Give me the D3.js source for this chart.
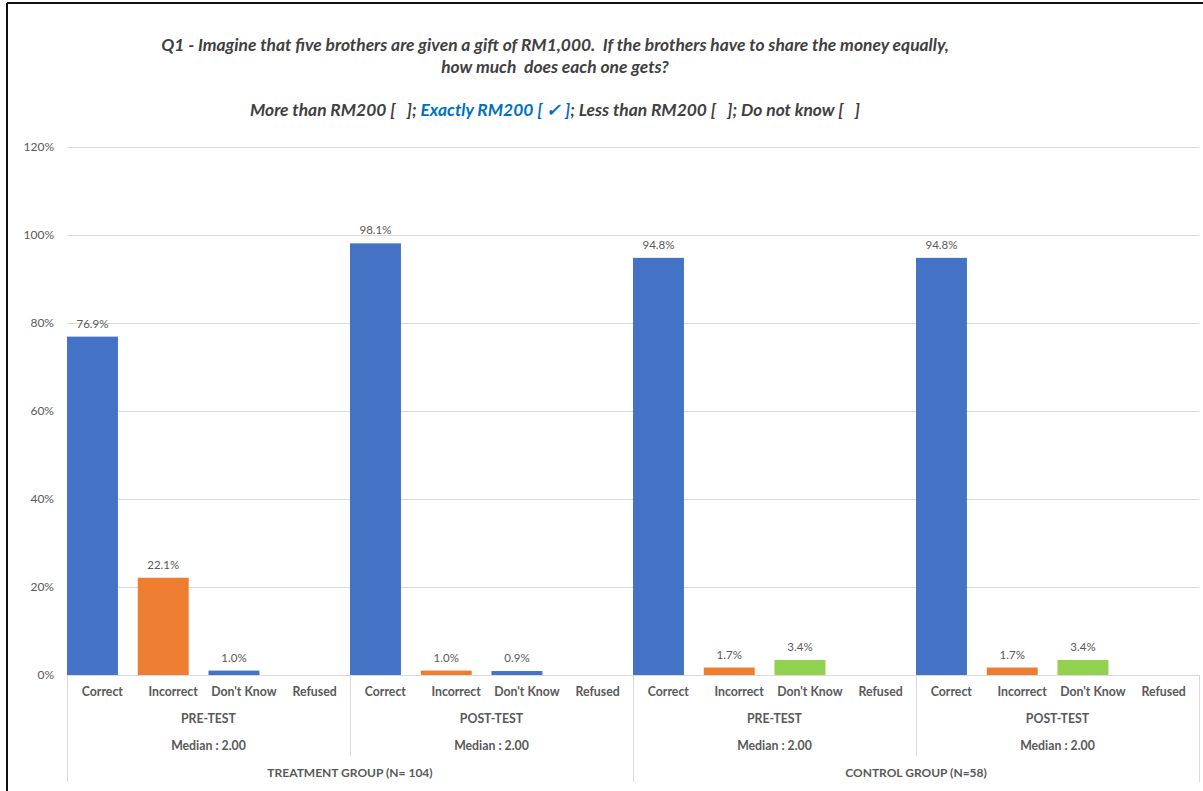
<!DOCTYPE html>
<html>
<head>
<meta charset="utf-8">
<script src="https://cdn.jsdelivr.net/npm/d3@7"></script>
<style>
  html, body { margin: 0; padding: 0; background: #fff; }
  svg { display: block; }
</style>
</head>
<body>
<svg id="chart" width="1203" height="791"></svg>
<script>
// Answer categories within each test
const categories = ["Correct", "Incorrect", "Don't Know", "Refused"];
// Test phases (one per sub-group) and their medians
const phases = ["PRE-TEST", "POST-TEST", "PRE-TEST", "POST-TEST"];
const medians = ["Median : 2.00", "Median : 2.00", "Median : 2.00", "Median : 2.00"];
// Study groups, each covering two phases
const groups = ["TREATMENT GROUP (N= 104)", "CONTROL GROUP (N=58)"];
// Percent of respondents per category (null = no bar)
const treatmentPre  = [76.9, 22.1, 1.0, null];
const treatmentPost = [98.1, 1.0, 0.9, null];
const controlPre    = [94.8, 1.7, 3.4, null];
const controlPost   = [94.8, 1.7, 3.4, null];
const phaseValues = [treatmentPre, treatmentPost, controlPre, controlPost];
// Bar fill per category, per group
const treatmentColors = ["#4472C4", "#ED7D31", "#4472C4", "#A5A5A5"];
const controlColors   = ["#4472C4", "#ED7D31", "#92D050", "#A5A5A5"];
const phaseColors = [treatmentColors, treatmentColors, controlColors, controlColors];
// Value-axis ticks
const yTicks = [0, 20, 40, 60, 80, 100, 120];

const FONT = "Lato, 'Open Sans', sans-serif";
const svg = d3.select("#chart");

// frame edges
svg.append("line").attr("x1", 7).attr("x2", 7).attr("y1", 3).attr("y2", 791)
  .attr("stroke", "#111").attr("stroke-width", 2);
svg.append("line").attr("x1", 7).attr("x2", 1203).attr("y1", 3).attr("y2", 3)
  .attr("stroke", "#111").attr("stroke-width", 2);

// title
const title = svg.append("g").attr("font-family", FONT).attr("font-style", "italic")
  .attr("font-weight", 700).attr("fill", "#404040").attr("text-anchor", "middle");
title.append("text").attr("x", 555).attr("y", 51).attr("font-size", 17.4)
  .attr("xml:space", "preserve")
  .text("Q1 - Imagine that five brothers are given a gift of RM1,000.  If the brothers have to share the money equally,");
title.append("text").attr("x", 555).attr("y", 73).attr("font-size", 17.4)
  .attr("xml:space", "preserve")
  .text("how much  does each one gets?");
const opts = title.append("text").attr("x", 555).attr("y", 116).attr("font-size", 17.4)
  .attr("xml:space", "preserve");
opts.append("tspan").text("More than RM200 [   ]; ");
opts.append("tspan").attr("fill", "#0070C0").text("Exactly RM200 [ \u2713 ]");
opts.append("tspan").text("; Less than RM200 [   ]; Do not know [   ]");

// scales
const keys = [];
phases.forEach((p, i) => categories.forEach((c, j) => keys.push(i + "|" + j)));
const x = d3.scaleBand().domain(keys).range([67, 1199]).padding(0);
const y = d3.scaleLinear().domain([0, 120]).range([675, 147]);

// gridlines
svg.append("g").selectAll("line").data(yTicks).join("line")
  .attr("x1", 67).attr("x2", 1199)
  .attr("y1", d => Math.round(y(d)) + 0.5).attr("y2", d => Math.round(y(d)) + 0.5)
  .attr("stroke", "#D9D9D9").attr("stroke-width", 1);

// value axis labels
const yAxis = svg.append("g").attr("transform", "translate(58,0)")
  .call(d3.axisLeft(y).tickValues(yTicks).tickSize(0).tickPadding(4).tickFormat(d => d + "%"));
yAxis.select(".domain").remove();
yAxis.selectAll("text").attr("font-family", FONT).attr("font-size", 12).attr("fill", "#595959");

// bars
const barData = [];
phaseValues.forEach((vals, i) => vals.forEach((v, j) => {
  if (v != null) barData.push({ key: i + "|" + j, v, color: phaseColors[i][j] });
}));
const bw = x.bandwidth() * 0.72;
svg.append("g").selectAll("rect").data(barData).join("rect")
  .attr("x", d => x(d.key)).attr("width", bw)
  .attr("y", d => y(d.v)).attr("height", d => y(0) - y(d.v))
  .attr("fill", d => d.color);

// value labels
svg.append("g").selectAll("text").data(barData).join("text")
  .attr("x", d => x(d.key) + bw / 2).attr("y", d => y(d.v) - 9)
  .attr("text-anchor", "middle").attr("font-family", FONT).attr("font-size", 11.5)
  .attr("fill", "#595959").text(d => d.v.toFixed(1) + "%");

// category axis: separators
const axisG = svg.append("g").attr("stroke", "#D9D9D9").attr("stroke-width", 1);
const phaseW = x.bandwidth() * categories.length;
const phaseStarts = phases.map((p, i) => x(i + "|0"));
phaseStarts.concat([1199]).forEach((sx, i) => {
  const long = (i % 2 === 0);
  axisG.append("line").attr("x1", Math.round(sx) + 0.5).attr("x2", Math.round(sx) + 0.5)
    .attr("y1", 675).attr("y2", long ? 782 : 756);
});

const lab = svg.append("g").attr("font-family", FONT).attr("fill", "#595959")
  .attr("text-anchor", "middle").attr("font-weight", 700);
keys.forEach(k => {
  const j = +k.split("|")[1];
  lab.append("text").attr("x", x(k) + x.bandwidth() / 2).attr("y", 696)
    .attr("font-size", 12.3).text(categories[j]);
});
phases.forEach((p, i) => {
  const cx = phaseStarts[i] + phaseW / 2;
  lab.append("text").attr("x", cx).attr("y", 723).attr("font-size", 12.3).text(p);
  lab.append("text").attr("x", cx).attr("y", 750).attr("font-size", 12.3).text(medians[i]);
});
groups.forEach((g, i) => {
  const cx = phaseStarts[i * 2] + phaseW;
  lab.append("text").attr("x", cx).attr("y", 777).attr("font-size", 12).text(g);
});
</script>
</body>
</html>
